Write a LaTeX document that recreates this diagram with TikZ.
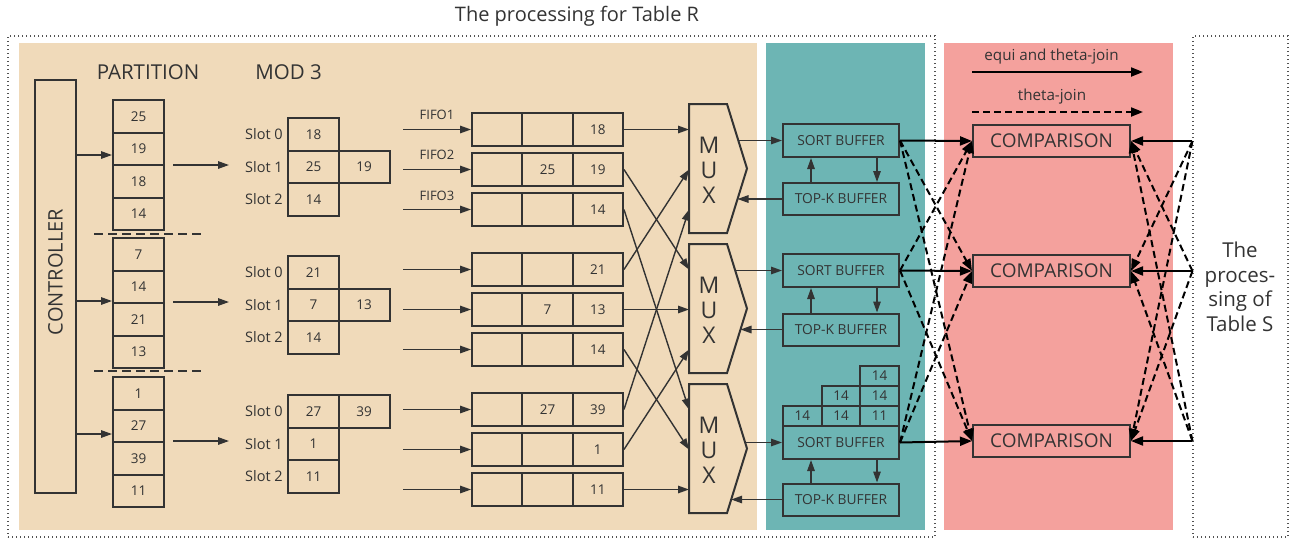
\documentclass[tikz,border=0pt]{standalone}
\usepackage{fontspec}
\setmainfont{Open Sans}
\usetikzlibrary{arrows.meta,calc}
\definecolor{sand}{HTML}{F0DABA}
\definecolor{panelteal}{HTML}{6DB5B4}
\definecolor{rose}{HTML}{F4A19D}
\definecolor{ink}{HTML}{333333}
\newcommand\fsz[2]{\fontsize{#1}{#2}\selectfont}
\begin{document}
\begin{tikzpicture}[x=1pt,y=-1pt,
  box/.style={draw=ink, line width=2pt, inner sep=0pt, text=ink},
  boxline/.style={draw=ink, line width=2pt},
  cell/.style={box, minimum width=51pt, minimum height=32.5pt, font=\fsz{13.5}{15}},
  fcell/.style={box, minimum width=50.33pt, minimum height=33pt, font=\fsz{13.5}{15}},
  scell/.style={box, minimum width=38.67pt, minimum height=20pt, font=\fsz{13.5}{15}},
  bufbox/.style={box, minimum width=116pt, minimum height=33pt, font=\fsz{13.8}{15}},
  compbox/.style={box, minimum width=157pt, minimum height=32pt, font=\fsz{19}{20}},
  lbl/.style={text=ink, inner sep=0pt},
  arr/.style={draw=ink, line width=1.4pt, -{Triangle[length=11pt,width=7.5pt]}},
  carr/.style={draw=black, line width=2pt, -{Triangle[length=12pt,width=9pt]}},
  dcarr/.style={carr, dash pattern=on 7pt off 4pt},
  sepline/.style={draw=ink, line width=1.4pt, dash pattern=on 9pt off 5pt},
  dotframe/.style={draw=ink!85, line width=1.1pt, dash pattern=on 1.2pt off 2.8pt, inner sep=0pt}]
\useasboundingbox (0,0) rectangle (1293,539);

% coloured stage panels
\fill[sand] (19,43) rectangle (757,530);
\fill[panelteal] (766,43) rectangle (925,530);
\fill[rose] (944,43) rectangle (1173,530);

% dotted outlines of the two table pipelines
\node[dotframe, minimum width=927pt, minimum height=501pt] (tblR) at (471.5,286.5) {};
\node[lbl, font=\fsz{20}{24}] (tblRtitle) at (577,16) {The processing for Table R};
\node[dotframe, minimum width=95pt, minimum height=501pt] (tblS) at (1240.5,286.5) {};
\node[lbl, align=center, font=\fsz{20.5}{24.5}] (tblStext) at (1240,287) {The\\proces-\\sing of\\Table S};

% column headings
\node[lbl, font=\fsz{20.5}{24}] (hpart) at (148,72.5) {PARTITION};
\node[lbl, font=\fsz{20.5}{24}] (hmod) at (288.5,72.5) {MOD 3};

% controller
\node[box, minimum width=41pt, minimum height=413pt] (ctrl) at (55.5,286.5) {};
\node[lbl, rotate=90, font=\fsz{20}{22}] (ctrlt) at (55.5,272) {CONTROLLER};

% partitions
\foreach \g/\top/\vals in {1/100/{25,19,18,14}, 2/238/{7,14,21,13}, 3/377/{1,27,39,11}} {
  \foreach \v [count=\i] in \vals
    \node[cell] (p\g-\i) at (138.5,\top+16.25+32.5*\i-32.5) {\v};
}
\draw[sepline] (94,234) -- (205,234);
\draw[sepline] (94,371) -- (205,371);

\draw[arr] (ctrl.east |- 0,155) -- (p1-2.west |- 0,155);
\draw[arr] (ctrl.east |- 0,301) -- (p2-2.west |- 0,301);
\draw[arr] (ctrl.east |- 0,434) -- (p3-2.west |- 0,434);

\foreach \g/\y in {1/165,2/302,3/441} {
  \coordinate (qa\g) at (173,\y);
  \coordinate (qb\g) at (229,\y);
  \draw[arr] (qa\g) -- (qb\g);
}

% mod-3 slots
\foreach \g/\top in {1/118,2/256,3/395} {
  \foreach \r in {0,1,2}
    \node[lbl, font=\fsz{14.5}{16}] (sl\g-\r) at (264,\top+16.25+32.5*\r) {Slot \r};
}
\foreach \g/\top/\a/\b/\c/\xr/\xv in {1/118/18/25/14/1/19, 2/256/21/7/14/1/13, 3/395/27/1/11/0/39} {
  \node[cell] (s\g-0) at (313.5,\top+16.25) {\a};
  \node[cell] (s\g-1) at (313.5,\top+48.75) {\b};
  \node[cell] (s\g-2) at (313.5,\top+81.25) {\c};
  \node[cell] (s\g-x) at (364,\top+16.25+32.5*\xr) {\xv};
}

% FIFOs
\foreach \k/\y/\b/\c in {1/129.5//18, 2/169.5/25/19, 3/209.5//14, 4/269.5//21, 5/309.5/7/13, 6/349.5//14, 7/409.5/27/39, 8/449.5//1, 9/489.5//11} {
  \node[fcell] (f\k-1) at (497.2,\y) {};
  \node[fcell] (f\k-2) at (547.5,\y) {\b};
  \node[fcell] (f\k-3) at (597.8,\y) {\c};
  \coordinate (fin\k) at (403,\y);
  \draw[arr] (fin\k) -- (f\k-1.west);
}
\node[lbl, font=\fsz{13}{15}] (fl1) at (437,115) {FIFO1};
\node[lbl, font=\fsz{13}{15}] (fl2) at (437,155) {FIFO2};
\node[lbl, font=\fsz{13}{15}] (fl3) at (437,196) {FIFO3};

% multiplexers
\foreach \j/\y in {1/168.5, 2/308.5, 3/448.5} {
  \node[minimum width=58pt, minimum height=129pt, inner sep=0pt, outer sep=0pt] (m\j) at (718,\y) {};
  \draw[boxline, fill=sand] (m\j.north west) -- ([xshift=-20pt]m\j.north east) -- (m\j.east)
    -- ([xshift=-20pt]m\j.south east) -- (m\j.south west) -- cycle;
  \node[lbl, align=center, font=\fsz{23}{25}] (mt\j) at (709,\y+1.5) {M\\U\\X};
}
\foreach \g in {1,2,3} {
  \foreach \j in {1,2,3} {
    \pgfmathtruncatemacro\src{3*(\g-1)+\j}
    \pgfmathtruncatemacro\dst{3*(\j-1)+\g}
    \draw[arr] (f\src-3.east) -- (m\j.west |- f\dst-3.east);
  }
}

% sort and top-k buffers
\foreach \j/\ys/\yt in {1/140.5/199, 2/270.5/329.5, 3/442.5/499.5} {
  \node[bufbox] (sb\j) at (841,\ys) {SORT BUFFER};
  \node[bufbox, minimum height=32pt] (tk\j) at (841,\yt) {TOP-K BUFFER};
  \draw[arr] (811,0 |- tk\j.north) -- (811,0 |- sb\j.south);
  \draw[arr] (877,0 |- sb\j.south) -- (877,0 |- tk\j.north);
}
\foreach \j/\xo/\xi in {1/738.3/737.5, 2/735.2/740.5, 3/745.1/731.2} {
  \draw[arr] (\xo,0 |- sb\j.west) -- (sb\j.west);
  \draw[arr] (tk\j.west) -- (\xi,0 |- tk\j.west);
}
\node[scell] (k1) at (802.3,416) {14};
\node[scell] (k2) at (841,416) {14};
\node[scell] (k3) at (879.7,416) {11};
\node[scell] (k4) at (841,396) {14};
\node[scell] (k5) at (879.7,396) {14};
\node[scell] (k6) at (879.7,376) {14};

% comparison units
\foreach \i/\y in {1/141,2/271,3/441}
  \node[compbox] (c\i) at (1051.5,\y) {COMPARISON};
\foreach \i in {1,2,3} {
  \coordinate (tS\i) at (tblS.west |- c\i.east);
}
\foreach \i/\k in {1/2,1/3,2/1,2/3,3/1,3/2} {
  \draw[dcarr] (sb\i.east) -- (c\k.west);
  \draw[dcarr] (tS\i) -- (c\k.east);
}
\foreach \i in {1,2,3} {
  \draw[carr] (sb\i.east) -- (c\i.west);
  \draw[carr] (tS\i) -- (c\i.east);
}

% legend
\node[lbl, font=\fsz{15.2}{17}] (leg1) at (1051.5,57) {equi and theta-join};
\coordinate (la1) at (972,72);
\coordinate (lb1) at (1143,72);
\draw[carr] (la1) -- (lb1);
\node[lbl, font=\fsz{15.2}{17}] (leg2) at (1052,97) {theta-join};
\coordinate (la2) at (972,112);
\coordinate (lb2) at (1143,112);
\draw[dcarr] (la2) -- (lb2);
\end{tikzpicture}
\end{document}
